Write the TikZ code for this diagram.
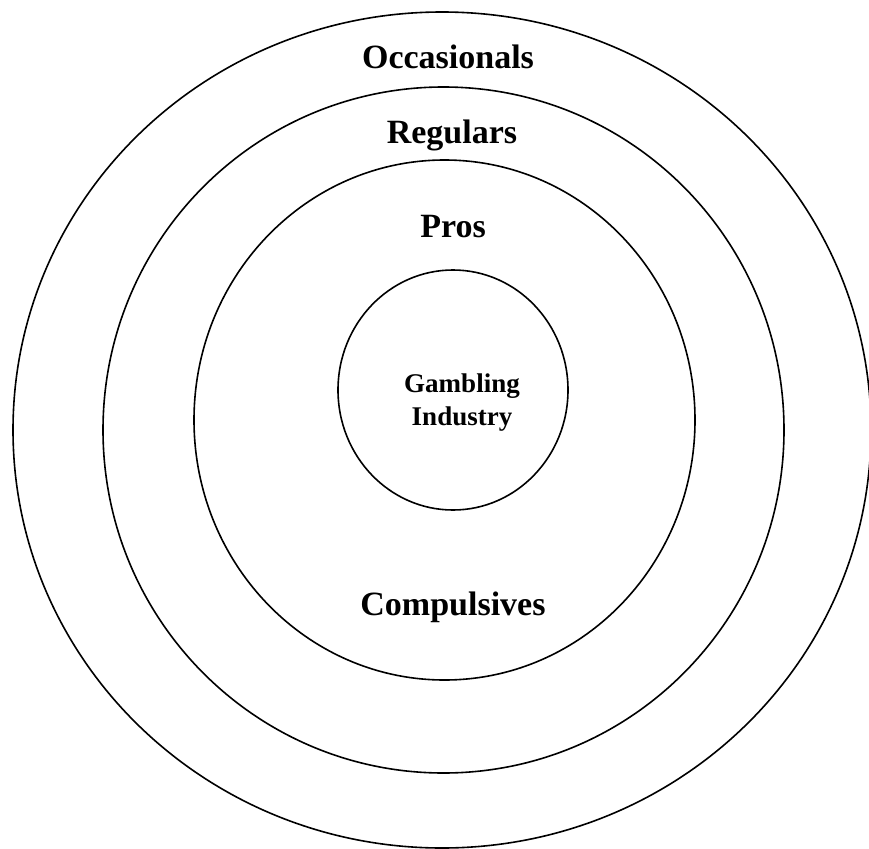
\documentclass[tikz,border=0pt]{standalone}
\usepackage{fontspec}
\setmainfont{Liberation Serif}
\begin{document}
\begin{tikzpicture}[x=1pt,y=-1pt,line width=1.6pt,
    ring label/.style={anchor=base,inner sep=0pt,font=\bfseries\fontsize{34}{40}\selectfont},
    core label/.style={align=center,inner sep=0pt,font=\bfseries\fontsize{27}{33}\selectfont}]
			\useasboundingbox (0,0) rectangle (869,848);
			\coordinate (O1) at (442,430);
			\coordinate (O2) at (443.5,430);
			\coordinate (O3) at (444.5,420);
			\coordinate (O4) at (453,390);
			\draw (O1) ellipse [x radius=429, y radius=418];
			\draw (O2) ellipse [x radius=340.5, y radius=343];
			\draw (O3) ellipse [x radius=250.5, y radius=260];
			\draw (O4) ellipse [x radius=115, y radius=120];
			\node[ring label] (occ) at (448,69) {Occasionals};
			\node[ring label] (reg) at (452,143) {Regulars};
			\node[ring label] (pros) at (453,237) {Pros};
			\node[ring label] (comp) at (453,615) {Compulsives};
			\node[core label] (ind) at (462,403) {Gambling\\Industry};
		\end{tikzpicture}
\end{document}
